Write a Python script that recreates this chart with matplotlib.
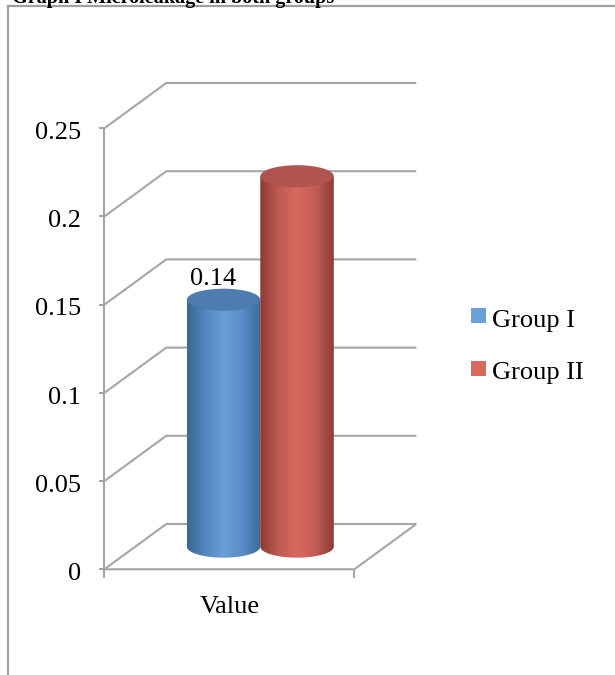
import numpy as np
import matplotlib
matplotlib.use("Agg")
import matplotlib.pyplot as plt
from matplotlib.patches import Ellipse, PathPatch, Rectangle
from matplotlib.path import Path
from matplotlib.lines import Line2D
from matplotlib.colors import LinearSegmentedColormap
from matplotlib.transforms import offset_copy

plt.rcParams['font.family'] = ['Liberation Serif', 'DejaVu Serif']

############ datos
title = "Graph I Microleakage in both groups"
groups = ["Group I", "Group II"]
values = [0.14, 0.21]
bar_labels = ["0.14", ""]
y_ticks = [0, 0.05, 0.1, 0.15, 0.2, 0.25]
y_tick_labels = ["0", "0.05", "0.1", "0.15", "0.2", "0.25"]
category = "Value"

# colores de cada cilindro (borde oscuro -> centro claro -> borde oscuro)
side_colors = [["#3a6694", "#5386c0", "#6a9fd8", "#5a8cc6", "#3d6a98"],
               ["#8c3935", "#bf5a54", "#d9685f", "#c45d57", "#8e3b37"]]
top_colors = ["#4e7cae", "#b1544f"]
grid_color = "#a6a6a6"

############ figura
W, H = 615, 675
fig = plt.figure(figsize=(W / 100, H / 100), dpi=100)
ax = fig.add_axes([0, 0, 1, 1])
ax.set_axis_off()

# geometria en pixeles de la caja "3d"
x0_px = 104.3        # eje y frontal
span_px = 250.0      # ancho del piso frontal
y0_px = 569.3        # valor 0 en el frente
px_unit = 1764.0     # pixeles por 1.0 de valor
dx = 62 / span_px    # profundidad en x
dy = 45.3 / px_unit  # profundidad en y

def pt(px):
    return px * 72 / 100

grid = dict(color=grid_color, lw=1.5, solid_capstyle="butt", zorder=1)
top = y_ticks[-1]
ax.plot([0, 0], [0, top], **grid)
for t in y_ticks:
    ax.plot([-5 / span_px, 0], [t, t], **grid)
    ax.plot([0, dx, 1 + dx], [t, t + dy, t + dy], **grid)
ax.plot([0, 1, 1 + dx], [0, 0, dy], **grid)
for xt in [0, 1]:
    ax.plot([xt, xt], [0, -9 / px_unit], **grid)

# etiquetas del eje y
tick_tr = offset_copy(ax.transData, fig=fig, x=-pt(23.6), y=-pt(10.7), units='points')
for t, lab in zip(y_ticks, y_tick_labels):
    ax.text(0, t, lab, ha='right', va='baseline', fontsize=19, transform=tick_tr)

cat_tr = offset_copy(ax.transData, fig=fig, x=0, y=-pt(44), units='points')
ax.text(0.5, 0, category, ha='center', va='baseline', fontsize=19, transform=cat_tr)

############ cilindros
gap = 0.206
bw = (1 - 2 * gap) / len(groups)
eh = 22 / px_unit
grad = np.linspace(0, 1, 256).reshape(1, -1)
lab_tr = offset_copy(ax.transData, fig=fig, x=-pt(10), y=pt(4), units='points')
for i, (g, v) in enumerate(zip(groups, values)):
    left = dx / 2 + gap + i * bw
    right = left + bw
    base = dy / 2
    topv = base + v
    cx = (left + right) / 2
    theta = np.linspace(np.pi, 2 * np.pi, 80)
    ex = cx + bw / 2 * np.cos(theta)
    ey = base + eh / 2 * np.sin(theta)
    verts = [(left, topv)] + list(zip(ex, ey)) + [(right, topv), (left, topv)]
    clip = PathPatch(Path(verts), transform=ax.transData, facecolor='none', edgecolor='none')
    ax.add_patch(clip)
    cmap = LinearSegmentedColormap.from_list(g, side_colors[i])
    im = ax.imshow(grad, cmap=cmap, aspect='auto', interpolation='bicubic',
                   extent=(left, right, base - eh / 2, topv), zorder=3)
    im.set_clip_path(clip)
    ax.add_patch(Ellipse((cx, topv), bw, eh, facecolor=top_colors[i],
                         edgecolor='none', zorder=4))
    if bar_labels[i]:
        ax.text(cx, topv + eh / 2, bar_labels[i], ha='center', va='baseline',
                fontsize=19, transform=lab_tr, zorder=5)

ax.set_xlim(-x0_px / span_px, (W - x0_px) / span_px)
ax.set_ylim(-(H - y0_px) / px_unit, y0_px / px_unit)

############ leyenda
leg_x, leg_y, leg_step = 471, 308.3, 52.7
for i, g in enumerate(groups):
    yy = leg_y + i * leg_step
    fig.add_artist(Rectangle((leg_x / W, 1 - (yy + 14.5) / H), 14.5 / W, 14.5 / H,
                             transform=fig.transFigure, facecolor=side_colors[i][2],
                             edgecolor='none'))
    fig.text(492.5 / W, 1 - (yy + 18.4) / H, g, fontsize=19, va='baseline', ha='left')

############ marco y titulo
frame = dict(transform=fig.transFigure, color="#a0a0a0", lw=1.6)
fig.add_artist(Line2D([8 / W, 8 / W], [0, 1 - 5.7 / H], **frame))
fig.add_artist(Line2D([8 / W, 1], [1 - 5.7 / H, 1 - 5.7 / H], **frame))
fig.text(12 / W, 1 - 3 / H, title, fontsize=14.5, fontweight='bold',
         va='baseline', ha='left')

fig.savefig('out.png', dpi=100)
